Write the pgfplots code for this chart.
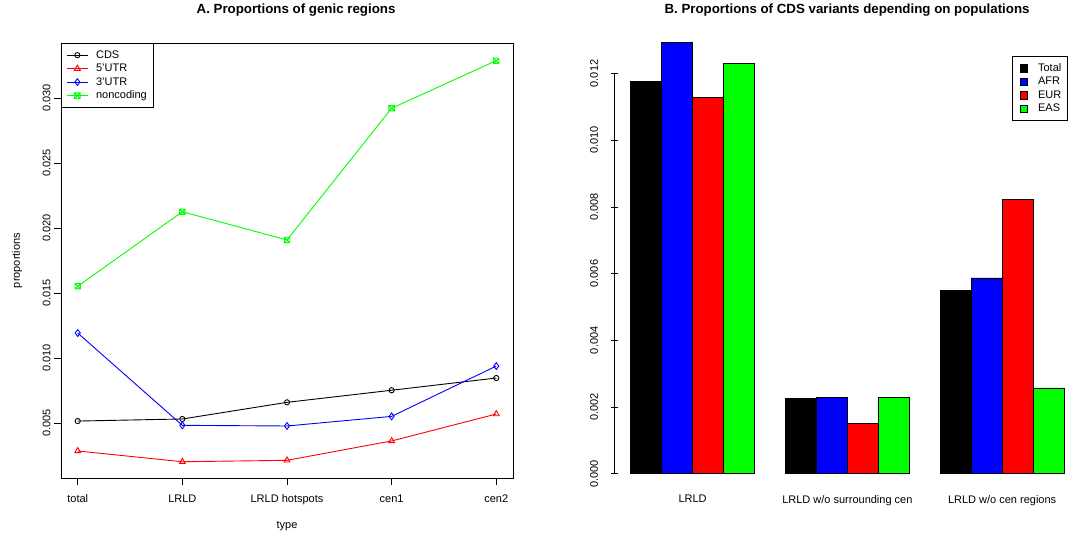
\documentclass[border=0pt]{standalone}
\usepackage{pgfplots}
\pgfplotsset{compat=1.18}
\usepackage{fontspec}
\setmainfont{Liberation Sans}
\usetikzlibrary{plotmarks}
\newcommand{\fs}{\fontsize{11}{13}\selectfont}
\definecolor{rgreen}{RGB}{0,255,0}
\definecolor{rred}{RGB}{255,0,0}
\definecolor{rblue}{RGB}{0,0,255}
\pgfdeclareplotmark{sqx}{%
  \pgfpathrectangle{\pgfqpoint{-\pgfplotmarksize}{-\pgfplotmarksize}}{\pgfqpoint{2\pgfplotmarksize}{2\pgfplotmarksize}}%
  \pgfpathmoveto{\pgfqpoint{-\pgfplotmarksize}{-\pgfplotmarksize}}\pgfpathlineto{\pgfqpoint{\pgfplotmarksize}{\pgfplotmarksize}}%
  \pgfpathmoveto{\pgfqpoint{-\pgfplotmarksize}{\pgfplotmarksize}}\pgfpathlineto{\pgfqpoint{\pgfplotmarksize}{-\pgfplotmarksize}}%
  \pgfusepathqstroke}
\pgfplotsset{
  rstyle/.style={
    scale only axis, anchor=south west,
    tick align=outside, tick pos=left, major tick length=7pt,
    tick style={black, line width=0.8pt},
    scaled y ticks=false,
    /pgf/number format/assume math mode=true,
    yticklabel style={rotate=90, anchor=south, font=\fs, /pgf/number format/.cd, fixed, fixed zerofill, precision=3},
    xticklabel style={font=\fs},
    label style={font=\fs},
    title style={font=\fontsize{13.3}{15}\selectfont\bfseries, anchor=center},
    legend cell align=left,
  }
}
\begin{document}
\begin{tikzpicture}
\useasboundingbox (0,0) rectangle (1077pt,533pt);
% ---------- Panel A ----------
\begin{axis}[rstyle,
  at={(61pt,55pt)}, width=452pt, height=435pt,
  xmin=0.84, xmax=5.16, ymin=0.00077, ymax=0.03423,
  axis line style={line width=0.8pt},
  xtick={1,2,3,4,5},
  xticklabels={total,LRLD,LRLD hotspots,cen1,cen2},
  xticklabel shift=6pt,
  ytick={0.005,0.010,0.015,0.020,0.025,0.030},
  xlabel={type}, ylabel={proportions},
  xlabel style={at={(axis description cs:0.5,-0.110)}, anchor=center},
  ylabel style={at={(axis description cs:-0.0973,0.5)}, anchor=center},
  title={A. Proportions of genic regions},
  title style={at={(axis description cs:0.52,1)}, yshift=27pt},
  legend style={at={(rel axis cs:0,1)}, anchor=north west, draw=black, line width=0.8pt,
    inner sep=5pt, font=\fs, row sep=0pt,
    nodes={inner sep=1.25pt, text height=8.5pt, text depth=2.5pt}},
  legend image code/.code={\path[draw=none,fill=none] (0pt,0pt) rectangle (28pt,0.1pt);\draw[mark repeat=2,mark phase=2,#1] plot coordinates {(0pt,0pt) (10.5pt,0pt) (21pt,0pt)};},
]
\addplot[black, line width=0.9pt, mark=o, mark size=2.6pt, mark options={line width=0.9pt}]
  coordinates {(1,0.00515) (2,0.00531) (3,0.00659) (4,0.00752) (5,0.00846)};
\addlegendentry{CDS}
\addplot[rred, line width=0.9pt, mark=triangle, mark size=3.4pt, mark options={line width=0.9pt}]
  coordinates {(1,0.00285) (2,0.00202) (3,0.00213) (4,0.00362) (5,0.00569)};
\addlegendentry{5'UTR}
\addplot[rblue, line width=0.9pt, mark=diamond, mark size=3.4pt, mark options={line width=0.9pt}]
  coordinates {(1,0.01192) (2,0.00482) (3,0.00477) (4,0.00551) (5,0.00938)};
\addlegendentry{3'UTR}
\addplot[rgreen, line width=0.9pt, mark=sqx, mark size=2.7pt, mark options={line width=0.9pt}]
  coordinates {(1,0.01552) (2,0.02125) (3,0.01908) (4,0.02921) (5,0.03287)};
\addlegendentry{noncoding}
\end{axis}
% ---------- Panel B ----------
\begin{axis}[rstyle,
  at={(614pt,55pt)}, width=462.4pt, height=435pt,
  xmin=0.46, xmax=15.4, ymin=-0.000129, ymax=0.012915,
  clip=false,
  axis lines=left, axis line style={draw=none, -},
  xtick={3,8,13},
  xticklabels={LRLD,LRLD w/o surrounding cen,LRLD w/o cen regions},
  xticklabel shift=10pt,
  yticklabel shift=9pt,
  xtick style={draw=none},
  ytick={0,0.002,0.004,0.006,0.008,0.010,0.012},
  title={B. Proportions of CDS variants depending on populations},
  title style={at={(axis description cs:0.504,1)}, yshift=27pt},
  legend style={at={(axis description cs:0.9818,0.970)}, anchor=north east, draw=black, line width=0.8pt,
    inner sep=5pt, font=\fs, row sep=0pt,
    nodes={inner sep=1.25pt, text height=8.5pt, text depth=2.5pt}},
  legend image code/.code={\path[draw=none,fill=none] (0pt,-0.1pt) rectangle (19pt,0.1pt);\draw[#1, draw=black, line width=0.6pt] (2pt,-3.8pt) rectangle (9.6pt,3.8pt);},
]
\draw[line width=0.8pt] (axis cs:0.46,0) -- (axis cs:0.46,0.012);
\addplot[ybar, bar width=1, bar shift=0pt, fill=black, draw=black, line width=0.8pt]
  coordinates {(1.5,0.01175) (6.5,0.00226) (11.5,0.00550)};
\addlegendentry{Total}
\addplot[ybar, bar width=1, bar shift=0pt, fill=rblue, draw=black, line width=0.8pt]
  coordinates {(2.5,0.01294) (7.5,0.00228) (12.5,0.00587)};
\addlegendentry{AFR}
\addplot[ybar, bar width=1, bar shift=0pt, fill=rred, draw=black, line width=0.8pt]
  coordinates {(3.5,0.01127) (8.5,0.00150) (13.5,0.00822)};
\addlegendentry{EUR}
\addplot[ybar, bar width=1, bar shift=0pt, fill=rgreen, draw=black, line width=0.8pt]
  coordinates {(4.5,0.01229) (9.5,0.00228) (14.5,0.00257)};
\addlegendentry{EAS}
\end{axis}
\end{tikzpicture}
\end{document}
